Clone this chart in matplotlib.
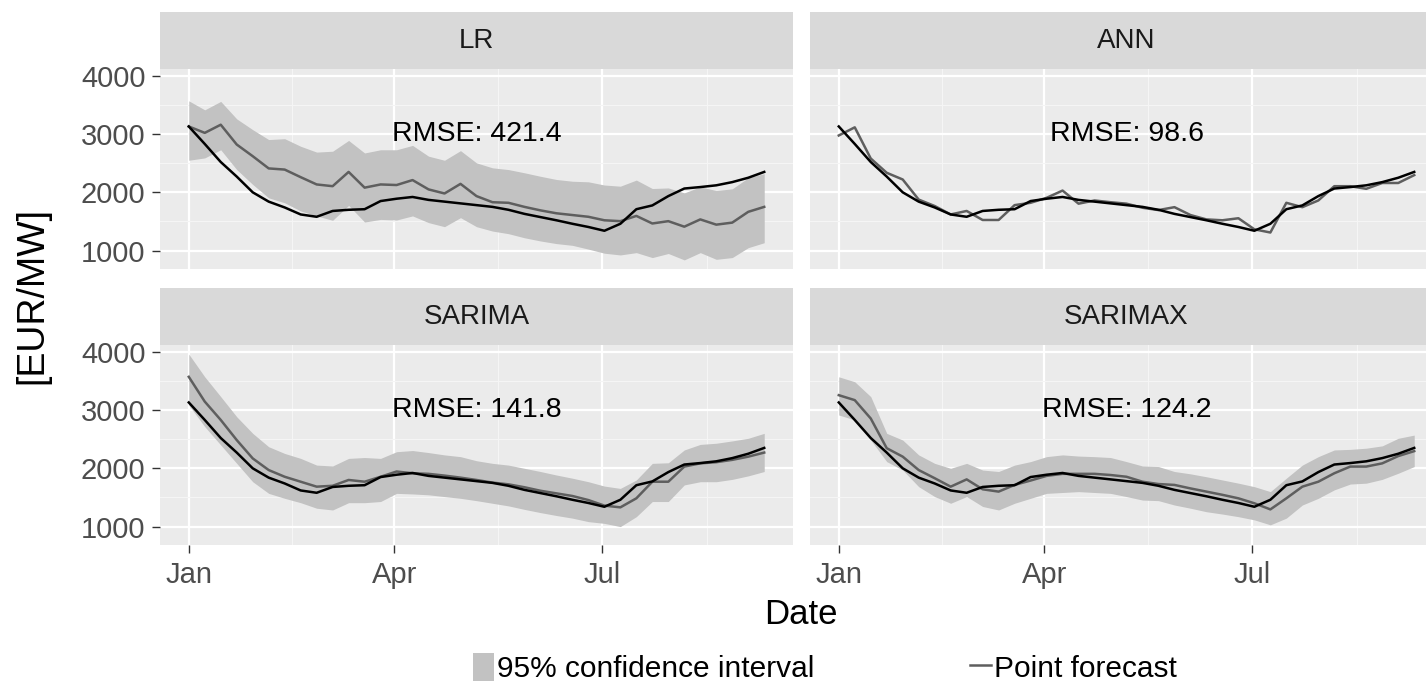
import matplotlib
matplotlib.use('Agg')
import matplotlib.pyplot as plt
import matplotlib.dates as mdates
from matplotlib.patches import Patch
from matplotlib.lines import Line2D
import numpy as np
import pandas as pd

plt.rcParams['font.family'] = ['Liberation Sans', 'DejaVu Sans']

# weekly dates, Jan -> Sep
dates = pd.date_range('2015-01-01', periods=37, freq='7D')

actual = [3130, 2830, 2520, 2270, 2000, 1840, 1740, 1620, 1580, 1680, 1700, 1710, 1850, 1890, 1920, 1870, 1840, 1810,
          1780, 1750, 1700, 1630, 1575, 1520, 1460, 1405, 1340, 1460, 1710, 1775, 1935, 2065, 2090, 2120, 2175, 2250, 2350]

lr_fc = [3130, 3020, 3160, 2820, 2620, 2410, 2390, 2260, 2135, 2105, 2350, 2080, 2135, 2125, 2210, 2050, 1980, 2145,
         1935, 1830, 1820, 1750, 1690, 1640, 1610, 1580, 1520, 1505, 1595, 1465, 1505, 1410, 1535, 1445, 1480, 1665, 1750]
lr_hi = [3570, 3415, 3560, 3260, 3075, 2905, 2920, 2790, 2690, 2705, 2890, 2675, 2730, 2730, 2805, 2620, 2550, 2715,
         2505, 2420, 2390, 2335, 2275, 2220, 2190, 2180, 2125, 2105, 2210, 2065, 2075, 1990, 2095, 2030, 2060, 2250, 2320]
lr_lo = [2550, 2590, 2730, 2390, 2135, 1905, 1820, 1680, 1595, 1520, 1775, 1490, 1535, 1525, 1595, 1480, 1410, 1565,
         1410, 1335, 1290, 1220, 1165, 1120, 1090, 1025, 955, 925, 965, 880, 950, 840, 965, 850, 880, 1050, 1135]

ann_fc = [2975, 3115, 2580, 2335, 2220, 1875, 1765, 1620, 1680, 1525, 1525, 1780, 1820, 1905, 2030, 1805, 1860, 1830,
          1805, 1735, 1695, 1745, 1610, 1535, 1520, 1555, 1365, 1310, 1820, 1745, 1860, 2105, 2105, 2060, 2160, 2160, 2295]

sa_fc = [3570, 3145, 2830, 2485, 2170, 1970, 1855, 1770, 1685, 1700, 1800, 1770, 1855, 1945, 1915, 1905, 1875, 1840,
         1800, 1755, 1725, 1675, 1615, 1570, 1525, 1455, 1360, 1330, 1485, 1770, 1770, 2030, 2085, 2105, 2145, 2200, 2270]
sa_hi = [3960, 3570, 3230, 2885, 2600, 2370, 2255, 2170, 2055, 2040, 2170, 2185, 2170, 2285, 2305, 2270, 2230, 2200,
         2130, 2085, 2055, 2000, 1945, 1885, 1830, 1770, 1695, 1655, 1800, 2085, 2095, 2315, 2410, 2430, 2470, 2515, 2600]
sa_lo = [3085, 2715, 2400, 2085, 1770, 1570, 1485, 1410, 1315, 1285, 1410, 1410, 1430, 1570, 1560, 1545, 1515, 1485,
         1445, 1400, 1355, 1295, 1240, 1190, 1145, 1085, 1055, 1000, 1170, 1430, 1430, 1715, 1770, 1770, 1810, 1870, 1945]

sx_fc = [3255, 3170, 2855, 2345, 2200, 1970, 1830, 1685, 1810, 1640, 1600, 1715, 1790, 1870, 1905, 1905, 1905, 1885,
         1855, 1770, 1730, 1715, 1655, 1600, 1545, 1485, 1400, 1295, 1485, 1685, 1770, 1915, 2030, 2030, 2085, 2210, 2295]
sx_hi = [3570, 3485, 3230, 2600, 2485, 2230, 2085, 2000, 2085, 1970, 1945, 2055, 2115, 2200, 2230, 2210, 2200, 2185,
         2115, 2040, 2030, 1945, 1905, 1855, 1800, 1745, 1685, 1600, 1830, 2055, 2200, 2315, 2325, 2345, 2385, 2515, 2570]
sx_lo = [2915, 2830, 2485, 2115, 1970, 1685, 1515, 1400, 1515, 1345, 1285, 1400, 1485, 1570, 1585, 1600, 1585, 1570,
         1515, 1455, 1445, 1370, 1315, 1255, 1215, 1170, 1115, 1030, 1145, 1370, 1485, 1630, 1730, 1745, 1810, 1915, 2030]

models = ['LR', 'ANN', 'SARIMA', 'SARIMAX']
forecasts = [lr_fc, ann_fc, sa_fc, sx_fc]
uppers = [lr_hi, None, sa_hi, sx_hi]
lowers = [lr_lo, None, sa_lo, sx_lo]
rmse = ['421.4', '98.6', '141.8', '124.2']

BG = '#EBEBEB'
STRIP = '#D9D9D9'
BAND = '#C2C2C2'
FC = '#5E5E5E'

W, H = 1426, 685
fig = plt.figure(figsize=(W / 100, H / 100), dpi=100)

# ggplot-like 5% expansion
allv = np.concatenate([actual] + [np.asarray(v) for v in forecasts + uppers + lowers if v is not None])
ymin, ymax = allv.min(), allv.max()
ypad = (ymax - ymin) * 0.05
xnum = mdates.date2num(dates)
xpad = (xnum[-1] - xnum[0]) * 0.05

majors = [mdates.date2num(pd.Timestamp(d)) for d in ['2014-10-01', '2015-01-01', '2015-04-01', '2015-07-01', '2015-10-01']]
minors = [(a + b) / 2 for a, b in zip(majors[:-1], majors[1:])]

panel_w, panel_h = 633, 200
lefts = [160, 810, 160, 810]
tops = [69, 69, 345, 345]
strip_h = 57

for i, m in enumerate(models):
    l, t = lefts[i], tops[i]
    ax = fig.add_axes([l / W, 1 - (t + panel_h) / H, panel_w / W, panel_h / H])
    ax.set_facecolor(BG)
    for s in ax.spines.values():
        s.set_visible(False)
    if uppers[i] is not None:
        ax.fill_between(dates, lowers[i], uppers[i], color=BAND, lw=0, zorder=2)
    ax.plot(dates, forecasts[i], color=FC, lw=1.8, zorder=3)
    ax.plot(dates, actual, color='black', lw=1.8, zorder=4)
    ax.set_yticks([1000, 2000, 3000, 4000])
    ax.set_yticks([1500, 2500, 3500], minor=True)
    ax.set_xticks(majors)
    ax.set_xticks(minors, minor=True)
    ax.set_xlim(xnum[0] - xpad, xnum[-1] + xpad)
    ax.set_ylim(ymin - ypad, ymax + ypad)
    ax.xaxis.set_major_formatter(mdates.DateFormatter('%b'))
    ax.grid(which='major', color='white', lw=1.6, zorder=1)
    ax.grid(which='minor', color='#F5F5F5', lw=0.8, zorder=1)
    ax.set_axisbelow(True)
    ax.tick_params(which='minor', length=0)
    ax.tick_params(which='major', length=5.5, width=1, color='#333333', labelcolor='#4D4D4D',
                   labelsize=21)
    ax.tick_params(axis='x', pad=6, labelbottom=(i >= 2), length=5.5 if i >= 2 else 0)
    ax.tick_params(axis='y', pad=5, labelleft=(i % 2 == 0), length=5.5 if i % 2 == 0 else 0)
    xm = (xnum[0] + xnum[-1]) / 2
    ax.text(xm, 3000, 'RMSE: ' + rmse[i], ha='center', va='center', fontsize=20.5, color='black', zorder=5)

    sax = fig.add_axes([l / W, 1 - t / H, panel_w / W, strip_h / H])
    sax.set_facecolor(STRIP)
    sax.set_xticks([])
    sax.set_yticks([])
    for s in sax.spines.values():
        s.set_visible(False)
    sax.text(0.5, 0.5, m, ha='center', va='center', fontsize=20, color='#1A1A1A', transform=sax.transAxes)

fig.text(801 / W, 1 - 615 / H, 'Date', ha='center', va='center', fontsize=25)
fig.text(32 / W, 1 - 296 / H, '[EUR/MW]', ha='center', va='center', fontsize=27, rotation=90)

handles = [Patch(facecolor=BAND, edgecolor='none'), Line2D([], [], color=FC, lw=1.8)]
fig.legend(handles, ['95% confidence interval', 'Point forecast'], loc='center', ncol=2,
           bbox_to_anchor=(825 / W, 1 - 668 / H), frameon=False, fontsize=21.5,
           handlelength=0.7, handleheight=1.1, handletextpad=0.1, columnspacing=5.2)

fig.savefig('out.png', dpi=100)
